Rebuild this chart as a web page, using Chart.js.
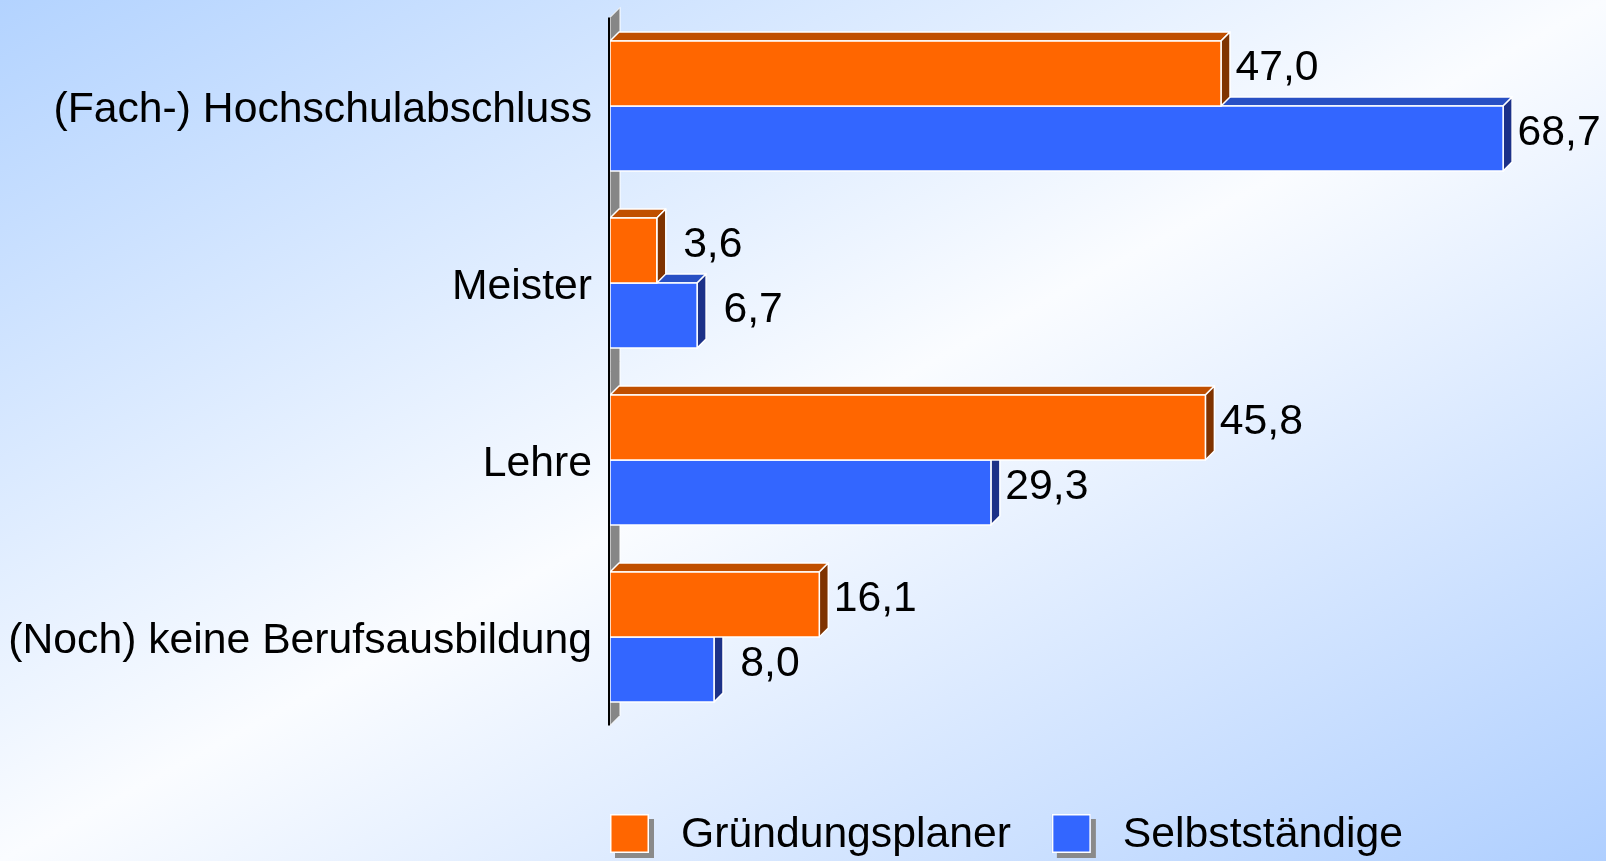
<!DOCTYPE html>
<html>
<head>
<meta charset="utf-8">
<script src="https://cdn.jsdelivr.net/npm/chart.js@4.4.0/dist/chart.umd.min.js"></script>
<style>
  html, body { margin: 0; padding: 0; }
  body {
    width: 1606px; height: 861px; overflow: hidden;
    background: linear-gradient(to bottom right, #b3d3ff 0%, #fafcff 50%, #afcfff 100%);
  }
  #wrap { position: relative; width: 1606px; height: 861px; }
</style>
</head>
<body>
<div id="wrap"><canvas id="chart"></canvas></div>
<script>
const categories = ['(Fach-) Hochschulabschluss', 'Meister', 'Lehre', '(Noch) keine Berufsausbildung'];
const gruendungsplaner = [47.0, 3.6, 45.8, 16.1];
const selbststaendige = [68.7, 6.7, 29.3, 8.0];
const seriesNames = ['Gründungsplaner', 'Selbstständige'];

const fontFamily = '"Liberation Sans", Arial, sans-serif';
const fontSize = 42.7;
const depth = 9;
const faces = [
  { front: '#ff6600', top: '#c04f00', side: '#7f3300' },
  { front: '#3366ff', top: '#2850c4', side: '#1c3188' }
];

function fmt(v) {
  return v.toFixed(1).replace('.', ',');
}

function poly(ctx, pts, fill) {
  ctx.beginPath();
  ctx.moveTo(pts[0][0], pts[0][1]);
  for (let i = 1; i < pts.length; i++) ctx.lineTo(pts[i][0], pts[i][1]);
  ctx.closePath();
  ctx.fillStyle = fill;
  ctx.fill();
  ctx.stroke();
}

// 3D look: back wall, top + side faces, value labels, axis line, legend
const bars3d = {
  id: 'bars3d',
  beforeDatasetsDraw(chart) {
    const ctx = chart.ctx, a = chart.chartArea;
    ctx.save();
    ctx.strokeStyle = '#ffffff';
    ctx.lineWidth = 1;
    poly(ctx, [[a.left, a.top], [a.left + depth + 1, a.top - depth - 1],
      [a.left + depth + 1, a.bottom - depth - 1], [a.left, a.bottom]], '#868686');
    ctx.restore();
  },
  afterDatasetsDraw(chart) {
    const ctx = chart.ctx, a = chart.chartArea;
    ctx.save();
    ctx.strokeStyle = '#ffffff';
    ctx.lineWidth = 1.5;
    ctx.lineJoin = 'round';
    for (let di = chart.data.datasets.length - 1; di >= 0; di--) {
      const meta = chart.getDatasetMeta(di);
      const c = faces[di];
      meta.data.forEach(el => {
        const p = el.getProps(['x', 'y', 'base', 'height'], true);
        const t = p.y - p.height / 2, b = p.y + p.height / 2, l = p.base, r = p.x;
        poly(ctx, [[l, t], [l + depth, t - depth], [r + depth, t - depth], [r, t]], c.top);
        poly(ctx, [[r, t], [r + depth, t - depth], [r + depth, b - depth], [r, b]], c.side);
        poly(ctx, [[l, t], [r, t], [r, b], [l, b]], c.front);
      });
    }

    // value labels
    ctx.fillStyle = '#000';
    ctx.font = fontSize + 'px ' + fontFamily;
    ctx.textAlign = 'center';
    ctx.textBaseline = 'middle';
    chart.data.datasets.forEach((ds, di) => {
      chart.getDatasetMeta(di).data.forEach((el, i) => {
        const p = el.getProps(['x', 'y'], true);
        ctx.fillText(fmt(ds.data[i]), p.x + 56, p.y - 5);
      });
    });

    // axis line
    ctx.strokeStyle = '#000';
    ctx.lineWidth = 2;
    ctx.beginPath();
    ctx.moveTo(a.left - 1, a.top);
    ctx.lineTo(a.left - 1, a.bottom);
    ctx.stroke();
    ctx.restore();
  },
  afterDraw(chart) {
    const ctx = chart.ctx, a = chart.chartArea;
    const box = 39;
    const yTop = a.bottom + 88.5;
    let x = a.left;
    ctx.save();
    ctx.font = fontSize + 'px ' + fontFamily;
    ctx.textAlign = 'left';
    ctx.textBaseline = 'middle';
    chart.data.datasets.forEach((ds, i) => {
      ctx.fillStyle = '#8a8a8a';
      ctx.fillRect(x + 5, yTop + 5, box, box);
      ctx.fillStyle = faces[i].front;
      ctx.fillRect(x, yTop, box, box);
      ctx.strokeStyle = '#ffffff';
      ctx.lineWidth = 1.5;
      ctx.strokeRect(x + 0.75, yTop + 0.75, box - 1.5, box - 1.5);
      ctx.fillStyle = '#000';
      ctx.fillText(ds.label, x + box + 32, yTop + box / 2 + 2);
      x += box + 32 + ctx.measureText(ds.label).width + 41;
    });
    ctx.restore();
  }
};

new Chart(document.getElementById('chart'), {
  type: 'bar',
  data: {
    labels: categories,
    datasets: [{
      label: seriesNames[0],
      data: gruendungsplaner,
      backgroundColor: faces[0].front,
      borderColor: '#ffffff',
      borderWidth: 0
    }, {
      label: seriesNames[1],
      data: selbststaendige,
      backgroundColor: faces[1].front,
      borderColor: '#ffffff',
      borderWidth: 0
    }]
  },
  options: {
    indexAxis: 'y',
    responsive: true,
    maintainAspectRatio: false,
    animation: false,
    layout: { padding: { top: 17.5, bottom: 135.5, left: 0, right: 8 } },
    categoryPercentage: 0.734,
    barPercentage: 1,
    plugins: {
      legend: { display: false },
      tooltip: { enabled: false }
    },
    scales: {
      x: {
        display: false,
        min: 0,
        max: 76
      },
      y: {
        grid: { display: false },
        border: { display: false },
        afterFit: (s) => {
          s.width = 610;
          s.paddingTop = 0;
          s.paddingBottom = 0;
        },
        ticks: {
          color: '#000',
          padding: 10,
          labelOffset: 4,
          autoSkip: false,
          font: { size: fontSize, family: fontFamily }
        }
      }
    }
  },
  plugins: [bars3d]
});
</script>
</body>
</html>
